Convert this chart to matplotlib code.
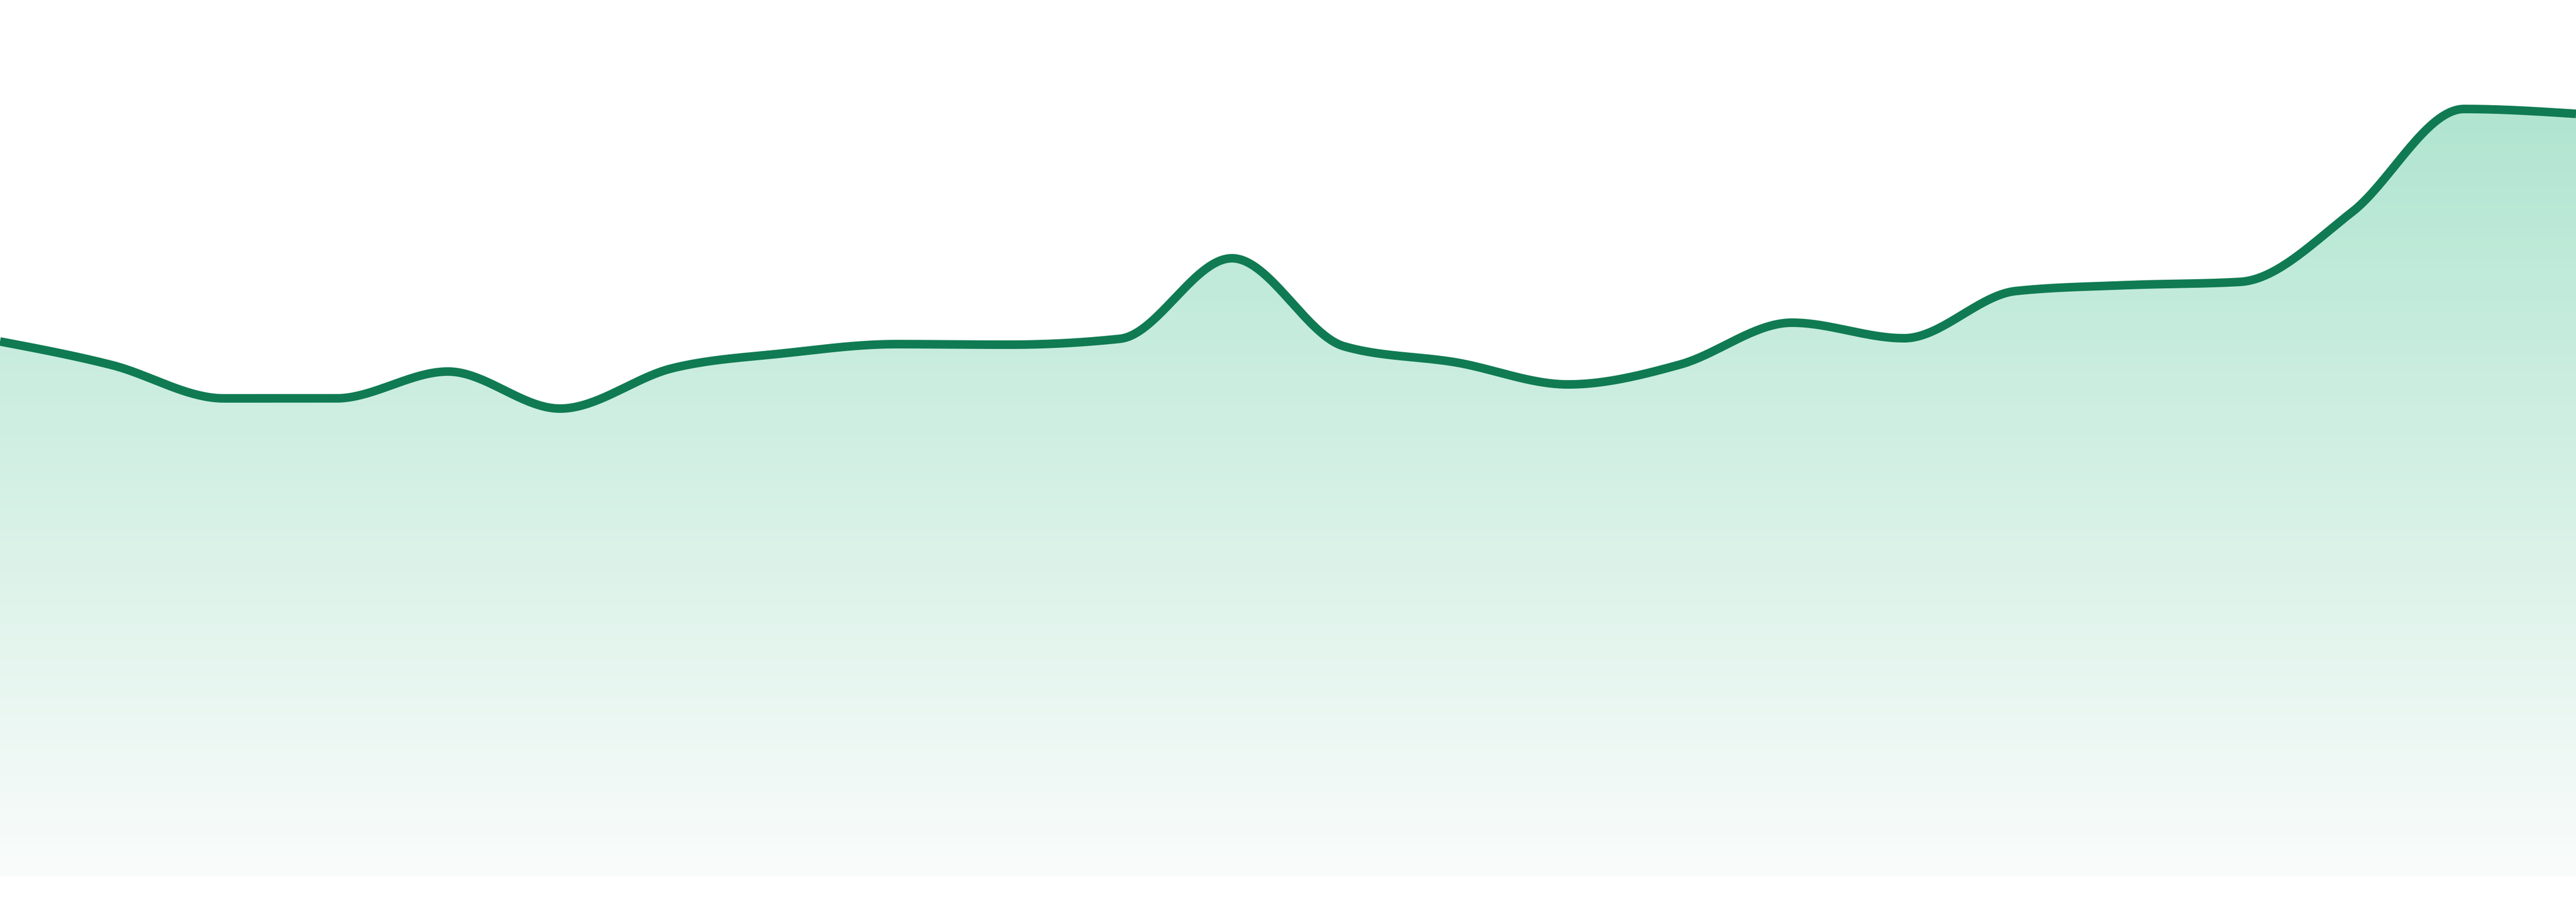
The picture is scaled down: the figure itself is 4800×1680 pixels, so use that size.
import numpy as np
import matplotlib
matplotlib.use("Agg")
import matplotlib.pyplot as plt
from matplotlib.colors import to_rgb

# ---- data ----
periods = list(range(24))
values = [99.7, 95.3, 89.1, 89.1, 94.1, 87.2, 94.7, 97.5, 99.2, 99.1,
          100.2, 115.2, 98.8, 95.8, 91.7, 95.4, 103.2, 100.3, 109.1, 110.2,
          110.8, 123.8, 143.0, 142.1]

line_color = "#107b52"
fill_top = "#b0e5d0"
fill_bottom = "#fafcfb"


def monotone_x(xs, ys, n=40):
    """Monotone cubic interpolation (same as d3.curveMonotoneX)."""
    xs = np.asarray(xs, float)
    ys = np.asarray(ys, float)
    h = np.diff(xs)
    s = np.diff(ys) / h
    m = np.zeros_like(ys)
    for i in range(1, len(ys) - 1):
        s0, s1 = s[i - 1], s[i]
        p = (s0 * h[i] + s1 * h[i - 1]) / (h[i - 1] + h[i])
        m[i] = (np.sign(s0) + np.sign(s1)) * min(abs(s0), abs(s1), 0.5 * abs(p))
    m[0] = (3 * s[0] - m[1]) / 2 if len(ys) > 2 else s[0]
    m[-1] = (3 * s[-1] - m[-2]) / 2 if len(ys) > 2 else s[-1]
    out_x, out_y = [], []
    for i in range(len(xs) - 1):
        t = np.linspace(0, 1, n, endpoint=(i == len(xs) - 2))
        h00 = 2 * t**3 - 3 * t**2 + 1
        h10 = t**3 - 2 * t**2 + t
        h01 = -2 * t**3 + 3 * t**2
        h11 = t**3 - t**2
        out_x.append(xs[i] + t * h[i])
        out_y.append(h00 * ys[i] + h10 * h[i] * m[i] + h01 * ys[i + 1] + h11 * h[i] * m[i + 1])
    return np.concatenate(out_x), np.concatenate(out_y)


fig = plt.figure(figsize=(48, 16.8), dpi=100)
ax = fig.add_axes([0, 0, 1, 1])
ax.set_xlim(periods[0], periods[-1])
ax.set_ylim(-4.7, 163.3)
ax.axis("off")

sx, sy = monotone_x(periods, values)

# gradient fill under the curve
poly = ax.fill_between(sx, sy, 0, facecolor="none", edgecolor="none")
c_top = np.array(to_rgb(fill_top))
c_bot = np.array(to_rgb(fill_bottom))
g = np.linspace(0, 1, 512)[:, None]
grad = c_top[None, :] * (1 - g) + c_bot[None, :] * g
img = np.repeat(grad[:, None, :], 2, axis=1)
grad_top = 144.3
im = ax.imshow(img, extent=[periods[0], periods[-1], 0, grad_top], aspect="auto",
               origin="upper", zorder=1, interpolation="bilinear")
path = poly.get_paths()[0]
im.set_clip_path(path, transform=ax.transData)

ax.plot(sx, sy, color=line_color, linewidth=11.5, solid_capstyle="butt",
        solid_joinstyle="round", zorder=3)

fig.savefig("out.png", dpi=100, facecolor="white")
